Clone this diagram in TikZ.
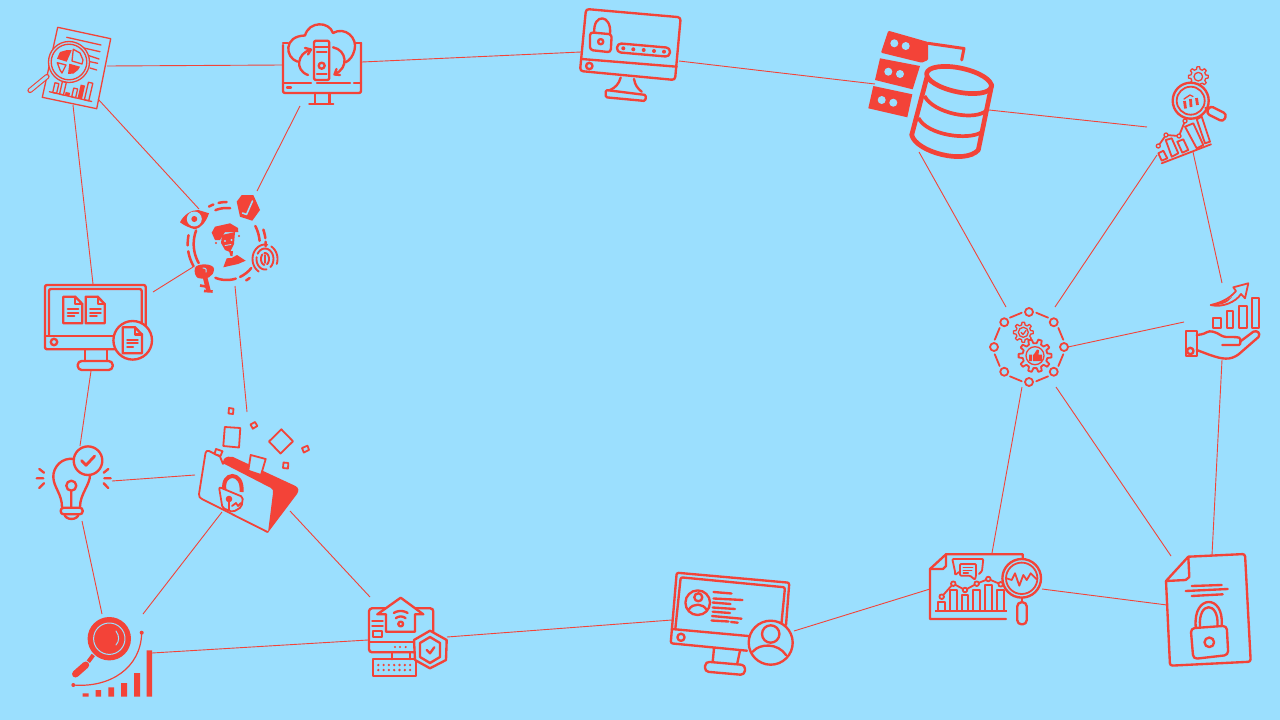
\documentclass[tikz,border=0pt]{standalone}
\definecolor{bgc}{HTML}{9BDFFE}
\definecolor{rd}{HTML}{F34338}
\newcommand{\earc}[6]{plot[domain=#5:#6,samples=16]({#1+#3*cos(\x)},{#2-#4*sin(\x)})}
\newcommand{\gearshape}[6][]{\draw[#1] ({#2+#5*cos(-.3*360/#6)},{#3+#5*sin(-.3*360/#6)})
 \foreach \gi in {0,...,\numexpr#6-1\relax}{
  -- ({#2+#5*cos((\gi-.3)*360/#6)},{#3+#5*sin((\gi-.3)*360/#6)})
  -- ({#2+#4*cos((\gi-.17)*360/#6)},{#3+#4*sin((\gi-.17)*360/#6)})
  -- ({#2+#4*cos((\gi+.17)*360/#6)},{#3+#4*sin((\gi+.17)*360/#6)})
  -- ({#2+#5*cos((\gi+.3)*360/#6)},{#3+#5*sin((\gi+.3)*360/#6)})
 } -- cycle;}
\tikzset{
 conn/.style={draw=rd,line width=.9pt},
 ic/.style={draw=rd,line width=2.35pt,line join=round,line cap=round},
 icm/.style={draw=rd,line width=1.8pt,line join=round,line cap=round},
 ics/.style={draw=rd,line width=1.3pt,line join=round,line cap=round},
 ick/.style={draw=rd,line width=4.7pt,line join=round,line cap=round},
 idr/.style={draw=rd,line width=2.5pt,line cap=round},
 cov/.style={fill=bgc},
 blu/.style={draw=bgc,line cap=round,line join=round},
}
\begin{document}
\begin{tikzpicture}[x=1pt,y=-1pt]
\useasboundingbox (0,0) rectangle (1280,720);
\fill[bgc] (0,0) rectangle (1280,720);
% connector ends
\coordinate (docE) at (107,66); \coordinate (cloudW) at (283,65);
\coordinate (cloudE) at (362,62); \coordinate (lockW) at (581,52);
\coordinate (lockE) at (679,61); \coordinate (dbW) at (875,84);
\coordinate (dbE) at (989,110); \coordinate (chartW) at (1147,127);
\coordinate (dbS) at (919,152); \coordinate (gearNW) at (1006,307);
\coordinate (gearNE) at (1055,307); \coordinate (chartSW) at (1157,155);
\coordinate (chartS) at (1193,152); \coordinate (handN) at (1222,283);
\coordinate (gearE) at (1068,347); \coordinate (handW) at (1184,322);
\coordinate (handS) at (1222,360); \coordinate (fileN) at (1212,555);
\coordinate (gearSE) at (1056,387); \coordinate (fileNW) at (1171,556);
\coordinate (gearS) at (1022,387); \coordinate (repN) at (992,553);
\coordinate (repE) at (1042,589); \coordinate (fileW) at (1167,605);
\coordinate (userE) at (794,631); \coordinate (repW) at (930,589);
\coordinate (homeE) at (447,637); \coordinate (userW) at (672,620);
\coordinate (searchE) at (152,653); \coordinate (homeW) at (368,640);
\coordinate (foldS) at (222,512); \coordinate (searchNE) at (143,614);
\coordinate (foldSE) at (290,511); \coordinate (homeN) at (370,597);
\coordinate (bulbS) at (82,521); \coordinate (searchN) at (102,614);
\coordinate (bulbE) at (112,481); \coordinate (foldW) at (195,475);
\coordinate (pcS) at (91,371); \coordinate (bulbN) at (80,446);
\coordinate (docS) at (73,105); \coordinate (pcN) at (93,284);
\coordinate (docSE) at (98,99); \coordinate (idNW) at (199,209);
\coordinate (cloudS) at (300,106); \coordinate (idNE) at (257,191);
\coordinate (idSW) at (193,267); \coordinate (pcE) at (153,292);
\coordinate (idS) at (235,286); \coordinate (foldN) at (247,412);
\foreach \a/\b in {docE/cloudW,cloudE/lockW,lockE/dbW,dbE/chartW,dbS/gearNW,gearNE/chartSW,chartS/handN,gearE/handW,handS/fileN,gearSE/fileNW,gearS/repN,repE/fileW,userE/repW,homeE/userW,searchE/homeW,foldS/searchNE,foldSE/homeN,bulbS/searchN,bulbE/foldW,pcS/bulbN,docS/pcN,docSE/idNW,cloudS/idNE,idSW/pcE,idS/foldN}
 \draw[conn] (\a) -- (\b);
% ---------- report with magnifier (top left)
\draw[ics] (57.7,27.3) -- (110.7,38.7) -- (96.7,108.7) -- (42.3,97.3) -- cycle;
\draw[ics] (66.7,37.3) -- (101,45) (63.3,43.3) -- (100,51.7) (87,55) -- (99,59) (90,61.7) -- (97.7,63.3) (90,68) -- (96.7,70);
\fill[bgc] (69,62) circle (20.5);
\draw[ics] (69,62) circle (20.5) (69,62) circle (17.8);
\fill[rd] (66.7,61.7) -- (57,58.7) -- (60,52) -- (67,50) -- (71.7,50.2) -- cycle;
\fill[rd] (69.3,63.7) -- (68,74) -- (73.5,73.5) -- (78,70) -- (80,66.7) -- cycle;
\draw[ics] (72,61) -- (73.3,49.3) -- (80,53) -- (83,60) -- (82,64) -- cycle;
\draw[ics] (66,65) -- (57.3,62.7) -- (60,70) -- (62,73) -- cycle;
\draw[draw=rd,line width=5.2pt,line cap=round] (47,76.5) -- (30,90.5);
\draw[draw=bgc,line width=3pt,line cap=round] (47,76.5) -- (30,90.5);
\begin{scope}[shift={(49.3,91.7)},rotate=-13]
 \draw[ics] (0,0) -- (43.5,0);
 \draw[ics] (3.5,0) rectangle (7.5,-10) (10.5,0) rectangle (14.5,-13) (23,0) rectangle (27,-9) (36,0) rectangle (40.5,-18);
 \fill[rd] (16,0) rectangle (20.5,-3.5) (29,0) rectangle (33.5,-14);
\end{scope}
% ---------- cloud monitor
\draw[ic] (283,45) -- (283,91) [rounded corners=2pt] -- (283,93) -- (361,93) -- (361,43);
\draw[ic] (283,43) -- (288,43) (361,43) -- (356,43);
\draw[ic] (283,82.7) -- (311,82.7) (317,82.7) -- (350,82.7) (354,82.7) -- (361,82.7);
\draw[ic] (287,87.5) -- (291,87.5);
\draw[ic] (315,93) -- (315,103.7) (329.6,93) -- (329.6,103.7) (309.3,103.7) -- (333.3,103.7);
\draw[ic] (297.7,61.7) .. controls (285,58) and (283,36) .. (305,35.5) .. controls (309,21) and (329,21) .. (333,33) .. controls (345,26) and (358,38) .. (354.5,50) .. controls (353,56) and (350,60) .. (345.7,62.3);
\draw[ic,rounded corners=2pt] (314,40.7) rectangle (329.3,80);
\draw[ic] (314,46.7) -- (329.3,46.7) (317,51.7) -- (326.5,51.7) (317,74) -- (326.5,74);
\draw[ic] (321.7,65.7) circle (3);
\draw[ic] (310,50) .. controls (298,53) and (294,70) .. (308,75);
\draw[ic] (305,48) -- (311,49.5) -- (308,54.5);
\draw[ic] (333,47.3) .. controls (347,50) and (349,68) .. (335,74);
\draw[ic] (340,75) -- (334.5,74.5) -- (336.5,69);
% ---------- lock monitor
\draw[ic,rounded corners=3pt] (586,9) -- (680.7,17.3) -- (675,80) -- (580,71) -- cycle;
\draw[ic] (581.7,59) -- (676.7,66.7);
\draw[ic] (589.3,66) circle (3.2);
\draw[ic] (620.7,77.5) .. controls (619,84) and (615,88) .. (610,90);
\draw[ic] (634,79) .. controls (635,85) and (638,89) .. (641.7,91.7);
\draw[ic,rounded corners=1.5pt] (605.7,90) -- (646,95) -- (645.3,101) -- (605.7,97.3) -- cycle;
\draw[ic,rounded corners=3pt] (590,32.3) -- (611.7,34.3) -- (610.7,52.3) -- (590,50) -- cycle;
\draw[ic] (594.3,32.3) .. controls (593,13) and (612,14) .. (610,34);
\draw[ic] (600.7,41.7) circle (2.6);
\draw[ic,rounded corners=4pt,rotate around={-5:(643.3,50)}] (617,45.5) rectangle (670,54.5);
\fill[rd] (623.3,48.3) circle (2) (633.3,49.3) circle (2) (643.7,50) circle (2) (654,51) circle (2) (664,51.7) circle (2);
% ---------- identity ring
\fill[rd] (180,222.3) .. controls (184,214) and (192,210) .. (198.3,210) -- (209,213.3) .. controls (206,222) and (201,228) .. (195,229.3) .. controls (190,228) and (185,226) .. cycle;
\fill[bgc] (194.3,219) circle (7.5);
\fill[rd] (194.3,219) circle (3);
\fill[rd] (241.7,195) -- (253.3,195) -- (260,210) -- (252.3,220.7) -- (240,216.7) -- (236.7,201.7) -- cycle;
\draw[blu,line width=1.6pt] (252.5,201) -- (246.5,214.5) -- (242.5,213);
\draw[idr] \earc{226.7}{244}{33}{36}{84}{110} \earc{226.7}{244}{33}{36}{158}{212} \earc{226.7}{244}{33}{36}{250}{286} \earc{226.7}{244}{33}{36}{294}{318} \earc{226.7}{244}{33}{36}{5}{30};
\draw[idr] \earc{226.7}{244}{39}{42}{110}{117} \earc{226.7}{244}{39}{42}{90}{102} \earc{226.7}{244}{39}{42}{168}{182} \earc{226.7}{244}{39}{42}{190}{212} \earc{226.7}{244}{39}{42}{8}{20} \earc{226.7}{244}{39}{42}{-3}{3} \earc{226.7}{244}{39}{42}{300}{306};
\fill[rd] (211.7,232.7) -- (215,226.7) -- (230,223.3) -- (238,228) -- (238.3,232) -- (225,232) -- (220,240) -- (215,240) -- cycle;
\fill[rd] (222,235) -- (235,232) -- (234,244) -- (230,252) -- (225,250) -- (221,243) -- cycle;
\fill[bgc] (225,241) circle (1.1) (231.5,240) circle (1.1);
\draw[blu,line width=.9pt] (225,245.5) -- (231,244.5);
\fill[rd] (229,251) -- (233,251) -- (232.5,256) -- (230.5,256) -- cycle;
\fill[rd] (223.3,267.3) -- (226.7,258.3) -- (231.7,258) -- (237,255) -- (245.7,260.7) -- (238,264) -- cycle;
\fill[rd] (216,243) circle (1.1) (239,236) circle (1.1);
\draw[idr,line width=1.9pt] \earc{265}{259}{12.5}{14.5}{-20}{60} \earc{265}{259}{12.5}{14.5}{80}{240} \earc{265}{259}{8.5}{10.5}{-50}{150} \earc{265}{259}{8.5}{10.5}{170}{280} \earc{265}{259}{4}{6}{-60}{100} \earc{265}{259}{4}{6}{130}{260};
\draw[idr,line width=1.9pt] (265,255) -- (265,263);
\fill[rd] (195,268) .. controls (196,263) and (214,263) .. (214,269) .. controls (214,277) and (206,280) .. (198,278) .. controls (195,276) and (194,272) .. cycle;
\draw[blu,line width=1pt] (203,268) .. controls (206,268) and (207,270) .. (206,272);
\draw[draw=rd,line width=4.5pt] (204.5,275) -- (208.5,291);
\draw[draw=rd,line width=2.6pt] (200,285.5) -- (206,286.5) (204,291) -- (212.7,291.5);
% ---------- monitor with documents
\draw[ic,rounded corners=2pt] (45,285) rectangle (145.7,349.3);
\draw[ic,rounded corners=2pt] (49,336) -- (49,289) -- (141.7,289) -- (141.7,336);
\draw[ic] (45,336) -- (145.7,336);
\draw[ic] (54,342) circle (3.2);
\draw[ic] (85,349.3) -- (85,361) (106.7,349.3) -- (106.7,361);
\draw[ic,rounded corners=4pt] (77.7,361) rectangle (112.7,370);
\foreach \dx in {63.3,85.7}{
 \draw[ic] (\dx,296.7) -- (\dx+12,296.7) -- (\dx+19,304) -- (\dx+19,323.3) -- (\dx,323.3) -- cycle;
 \draw[ic] (\dx+12,296.7) -- (\dx+12,304) -- (\dx+19,304);
 \draw[ic] (\dx+4.5,309) -- (\dx+15,309) (\dx+4.5,312.7) -- (\dx+15,312.7) (\dx+4.5,316) -- (\dx+11,316);
}
\fill[bgc] (132.7,340.3) circle (19.3);
\draw[ic] (132.7,340.3) circle (19.3);
\draw[ic] (122.7,327.3) -- (135,327.3) -- (142,334.5) -- (142,353.3) -- (122.7,353.3) -- cycle;
\draw[ic] (135,327.3) -- (135,334.5) -- (142,334.5);
\draw[ic] (127.3,340) -- (137.7,340) (127.3,343.3) -- (137.7,343.3) (127.3,346.7) -- (133,346.7);
% ---------- bulb
\draw[ic] (74,459) .. controls (62,457) and (53,467) .. (53.3,477) .. controls (53.5,487) and (62,494) .. (62,507);
\draw[ic] (90,475) .. controls (90,485) and (80,494) .. (80,507);
\draw[ic,rounded corners=3pt] (60.7,507.7) rectangle (82.7,514.3);
\draw[ic] (64.5,514.3) .. controls (65.5,520.5) and (77.5,520.5) .. (78.5,514.3);
\draw[ic] (71.3,485.7) circle (5) (71.3,490.7) -- (71.3,507.7);
\draw[ic] (88,460.7) circle (14.3);
\draw[draw=rd,line width=2.8pt,line cap=round,line join=round] (81.7,460.7) -- (86,465.3) -- (94.7,456);
\draw[ic] (39.3,469) -- (44,472.7) (36.7,478.3) -- (43.3,478.3) (39.3,488) -- (44,483.3) (108.3,469) -- (103.7,472.7) (110.7,478.3) -- (104.3,478.3) (108.3,488) -- (103.7,483.3);
% ---------- folder
\draw[icm] (223,464) -- (220,456.5) -- (209,451) .. controls (207,450.5) and (206,451) .. (205.5,453) -- (199,494) .. controls (198.8,497) and (200,498) .. (202,499) -- (267.5,532);
\fill[rd] (222.5,463) -- (224,459) .. controls (226,456.5) and (230,456) .. (233,457) -- (295.5,486) .. controls (299,488) and (299,491) .. (297,494) -- (268,532.5) -- (273,493) .. controls (273.5,490) and (272.5,489) .. (271,488) -- cycle;
\draw[icm,cov] (250.7,455) -- (265.7,459) -- (261,475) -- (248.3,470.7) -- cycle;
\draw[icm,cov] (216,449) -- (222.5,451.2) -- (220.5,456) -- (214.5,454) -- cycle;
\draw[icm] (229,408) -- (233.5,408.7) -- (233,414) -- (228.5,413.5) -- cycle;
\draw[icm] (224.8,427) -- (240.3,428) -- (239,447.5) -- (223.3,446) -- cycle;
\draw[icm] (250.5,424.5) -- (255,422) -- (257.3,426) -- (252.8,428.7) -- cycle;
\draw[icm] (281.3,429.3) -- (293,441.3) -- (280.5,453.5) -- (269,441.5) -- cycle;
\draw[icm] (302,448) -- (307.5,445.7) -- (309,450) -- (303.8,452.5) -- cycle;
\draw[icm] (283.5,462.5) -- (288.3,463) -- (288,468.5) -- (283,468) -- cycle;
\draw[draw=rd,line width=4pt] (224.5,490) .. controls (221,472) and (243.5,470) .. (241.5,492);
\draw[icm,cov,rounded corners=2pt] (219,487) -- (243,497) -- (241.5,507) -- (233,512) -- (222.5,508) -- cycle;
\fill[rd] (229,499) circle (3.3);
\draw[icm] (229,499) -- (229,510) (232,506) -- (236,503) -- (238,506) -- (241,503);
% ---------- search with growth bars
\fill[rd] (109.3,638.7) circle (21.7);
\draw[blu,line width=1pt] (109.3,638.7) circle (15.7);
\draw[blu,line width=1pt] (116,631) .. controls (119.5,636) and (119.5,641) .. (116,645);
\draw[draw=rd,line width=4pt] (93.3,655) -- (88.3,661.7);
\draw[draw=rd,line width=7pt,line cap=round] (85.7,665) -- (75.5,674);
\draw[draw=rd,line width=1.2pt] (141.7,632.7) .. controls (141,668) and (110,688) .. (73.3,685);
\fill[rd] (141.7,632.7) circle (2) (73.3,685) circle (2);
\fill[rd] (82.7,693.3) rectangle (88.7,696.7) (95.7,690) rectangle (101,696.7) (108.3,687.3) rectangle (114,696.7) (121,683) rectangle (127,696.7) (134,673) rectangle (140,696.7) (146.7,650.3) rectangle (152,696.7);
% ---------- home monitor
\draw[ic,rounded corners=3pt] (369,608.3) rectangle (433.3,652.3);
\draw[ic] (369,641.7) -- (415,641.7);
\fill[rd] (395,647) circle (1.2) (400,647) circle (1.2) (405.7,647) circle (1.2);
\draw[ic] (391.7,652.3) -- (391.7,659.3) (410,652.3) -- (410,659.3);
\draw[ic] (373.3,659.3) rectangle (415.7,676);
\foreach \kx in {378.3,383.6,388.9,394.2,399.5,404.8,410.1}{\fill[rd] (\kx,665) circle (1.3) (\kx,670) circle (1.3);}
\draw[ic,fill=bgc] (386,614.3) -- (386,631.7) -- (415,631.7) -- (415,614.3) -- (423.3,614.3) -- (400.7,597.7) -- (377.3,614.3) -- cycle;
\draw[ic] (400.7,624) circle (2.4);
\draw[ic] \earc{400.7}{624}{7.5}{7.5}{50}{130} \earc{400.7}{624}{13}{13}{58}{122};
\draw[ic] (372.3,621) -- (382.7,621) (372.3,626) -- (382.7,626);
\draw[ic] (372.7,631) rectangle (382.3,637.3);
\draw[ic,fill=bgc] (430,630.7) -- (446.7,640) -- (446,660) -- (430,668.3) -- (415,660) -- (414,640) -- cycle;
\draw[ic] (430,637) -- (440,643) -- (440,657) -- (430,663) -- (420,657) -- (420,643) -- cycle;
\draw[ic] (426.7,650) -- (430,653.3) -- (434.3,647.3);
% ---------- user monitor
\draw[ic,rounded corners=2pt] (747,650.7) -- (670.7,643.3) -- (676.7,572.7) -- (789.3,582.7) -- (786,625);
\draw[ic,rounded corners=2pt] (675.3,629) -- (680.7,577.3) -- (785,587.3) -- (781,628);
\draw[ic] (671.7,629) -- (748.3,636);
\draw[ic] (681,637.3) circle (3.6);
\draw[ic] (714,648.3) -- (712.7,661.7) (740,650.7) -- (737.3,663.3);
\draw[ic,rounded corners=4pt,rotate around={-5:(725,668.3)}] (705,663.3) rectangle (745,673.3);
\draw[ic] (697.7,602.7) circle (12.3) (698.3,597.3) circle (4);
\draw[ic] (689,609.3) .. controls (693,603) and (703,603) .. (706.7,610);
\draw[ic] (713.5,592) -- (731.5,593.5) (713.5,598.5) -- (742.5,600) (712.7,602.5) -- (730.5,604) (712.7,607.5) -- (735,609) (712.7,611.7) -- (730,613) (712,616) -- (741.5,618.7) (711.5,620.5) -- (728.5,621.5) (731,622) -- (737.7,622.7);
\fill[bgc] (770.7,642.7) circle (22);
\draw[ic] (770.7,642.7) circle (22) (770.7,634) circle (8.7);
\draw[ic] (752.7,651.7) .. controls (760,643) and (778,643) .. (786,655);
% ---------- analytics report
\draw[ic] (1022.7,558) -- (1022.7,554.3) -- (946,554.3) -- (930,569) -- (930,619) -- (1006,619);
\draw[ic] (930,569) -- (943,569) -- (946,566) -- (946,554.3);
\draw[draw=rd,line width=2.7pt] (935,611) -- (1006.7,611);
\draw[icm] (938.3,611) rectangle (945,602.3) (950,611) rectangle (956.7,590) (961.7,611) rectangle (968.3,595) (973.3,611) rectangle (980,590) (985,611) rectangle (992.3,585) (997.3,611) rectangle (1004,590);
\draw[icm] (941.7,596.7) -- (953.3,583.7) -- (965,590) -- (976.7,583.7) -- (988.3,579) -- (1000.7,584.3);
\foreach \px/\py in {941.7/596.7,953.3/583.7,965/590,976.7/583.7,988.3/579,1000.7/584.3}{\draw[icm,cov] (\px,\py) circle (2.3);}
\draw[icm,rounded corners=1pt] (955,571.5) -- (952.3,559) -- (983.3,559) -- (982,571) -- (979,574);
\draw[icm,rounded corners=1pt] (955,571.5) -- (955,575) -- (959,572);
\draw[icm,fill=bgc,rounded corners=1pt] (960,564) -- (976,564) -- (976,575.7) -- (975,579.7) -- (970,575.7) -- (960,575.7) -- cycle;
\draw[ics] (963.3,567.7) -- (972.7,567.7) (963.3,570.3) -- (971.7,570.3) (963.3,573) -- (968.3,573);
\fill[bgc] (1021.7,578.3) circle (19.3);
\draw[ic] (1021.7,578.3) circle (19.3);
\draw[icm] (1021.7,578.3) circle (15.7);
\draw[icm] (1006.5,578.3) -- (1011.7,580) -- (1015,573.3) -- (1019.3,585.7) -- (1023.3,575) -- (1026.7,580) -- (1030.7,573.3) -- (1036.7,579.3);
\draw[ic] (1021.7,598) -- (1021.7,602.3);
\draw[ic,rounded corners=4pt] (1017.3,602.3) rectangle (1026.7,624.3);
% ---------- locked file
\draw[ic,rounded corners=2.5pt] (1166,581) -- (1170,665.7) -- (1250.7,661.7) -- (1245,554) -- (1188.3,556.7);
\draw[ic] (1188.3,556.7) -- (1166,581) -- (1185.7,580) -- (1189.3,577) -- (1188.3,556.7);
\draw[ic] (1191.7,586) -- (1221.7,585) (1185.7,591) -- (1227.7,589) (1191.7,596) -- (1222.7,594.3);
\draw[ic,rounded corners=4pt] (1190.7,628.3) -- (1226.7,625.7) -- (1228.3,655) -- (1193.3,659) -- cycle;
\draw[ic] (1209.3,642.3) circle (4.8);
\draw[ic] (1195.7,626.7) .. controls (1193,594) and (1224,594) .. (1221.7,625);
\draw[ic] (1200,626.3) .. controls (1198,601) and (1219,601) .. (1217.5,625.5);
% ---------- database
\fill[rd,rounded corners=1pt] (888.3,30.7) -- (928,42) -- (928,60) -- (921.7,62.7) -- (881,52.7) -- cycle;
\draw[draw=rd,line width=3pt,line join=round,line cap=round] (928,43.3) -- (964,48.5) -- (961.7,60);
\fill[rd] (880,58.3) -- (920,66) -- (912.7,89.3) -- (875,80) -- cycle;
\fill[rd] (873.3,86) -- (912.3,94.3) -- (907.3,117.3) -- (868.3,108.3) -- cycle;
\fill[bgc] (894.3,43.3) circle (4) (905.7,46) circle (4) (888.3,71.7) circle (4) (900,74) circle (4) (881.7,100) circle (4) (893.3,102.7) circle (4);
\draw[ick] (959,80) ellipse [x radius=33,y radius=12,rotate=-12];
\draw[ick] (926.7,78) -- (911.7,135) .. controls (916,152) and (965,165) .. (978.3,150) -- (991.7,85);
\draw[draw=rd,line width=3.7pt] (924.5,96) .. controls (933,113) and (975,122) .. (987,110);
\draw[draw=rd,line width=3.7pt] (918.5,118) .. controls (927,135) and (968,141) .. (982,132);
% ---------- chart with magnifier
\gearshape[ics]{1198.3}{76.7}{10}{7.6}{8}
\draw[ics] (1198.3,76.7) circle (4.3);
\fill[bgc] (1190.7,100.7) circle (18);
\draw[ic] (1190.7,100.7) circle (18);
\draw[icm] (1190.7,100.7) circle (14);
\draw[draw=rd,line width=2.8pt] (1184.5,101) -- (1185.5,108.5) (1190.5,99) -- (1191,107) (1196.5,98) -- (1197.5,105);
\draw[ics] (1184,99) -- (1190,95) -- (1193,96.5);
\draw[ic,rounded corners=3.5pt,rotate around={-27:(1216.5,113.8)}] (1207,109.5) rectangle (1226,118);
\draw[ic] (1205.5,108) -- (1208.3,109.3);
\draw[icm] (1158.3,153.3) -- (1163.3,150.7) -- (1167.3,158.3) -- (1161.7,160.7) -- cycle;
\draw[icm] (1165.7,140) -- (1171.7,138.3) -- (1178.3,153.3) -- (1171.7,156.7) -- cycle;
\draw[icm] (1177.3,141.7) -- (1183.3,139.3) -- (1188.3,150) -- (1182.3,152.7) -- cycle;
\draw[icm] (1185,126.7) -- (1193.3,123.3) -- (1203.3,145) -- (1196.7,148.3) -- cycle;
\draw[icm] (1196.7,119.3) -- (1201.7,116.7) -- (1210,141.7) -- (1205,143.3) -- cycle;
\draw[icm] (1161.7,163.3) -- (1211,144.3);
\draw[icm] (1158.3,146) -- (1166,135) -- (1179,136) -- (1185,121);
\foreach \px/\py in {1158.3/146,1166/135,1179/136,1185/121}{\draw[ics,cov] (\px,\py) circle (2);}
% ---------- gear ring
\foreach \na in {0,45,...,315}{
 \draw[icm] ({1029+35*cos(\na)},{347+35*sin(\na)}) circle (4);
 \draw[icm] ({1029+35*cos(\na+12)},{347+35*sin(\na+12)}) -- ({1029+35*cos(\na+33)},{347+35*sin(\na+33)});
}
\gearshape[icm]{1035}{355.7}{16.5}{12.5}{10}
\draw[ics] (1035,355.7) circle (9);
\fill[rd] (1029,354.5) rectangle (1032,361) (1033,354.5) rectangle (1042,361);
\fill[rd] (1033.5,355) -- (1037,349.5) -- (1039,350) -- (1038.5,355) -- cycle;
\gearshape[ics]{1023.3}{332.3}{10}{7.5}{8}
\draw[ics] (1023.3,332.3) circle (5);
\draw[ics] (1021,332.3) -- (1023,334.5) -- (1026,330.5);
% ---------- hand with bars
\draw[ic] (1185.7,331) rectangle (1196.7,355.7);
\draw[ic] (1190.3,351) circle (3.2);
\draw[ic,rounded corners=3pt] (1196.7,335) -- (1204,334) .. controls (1210,330) and (1216,332) .. (1223.3,337) -- (1236,337) .. controls (1241,338) and (1241,345) .. (1236,345) -- (1222.3,345);
\draw[ic] (1240,341.7) -- (1253.3,331.7) .. controls (1257,330) and (1261,333) .. (1258.5,337) -- (1239,354) .. controls (1230,361) and (1222,359) .. (1210,355) -- (1196.7,350);
\draw[ic] (1213.3,318.3) rectangle (1220.7,328.3) (1226.7,310.7) rectangle (1233.3,328.3) (1239.3,306) rectangle (1246.7,328.3) (1252,298) rectangle (1259.3,328.3);
\draw[icm,cov] (1210.7,305) .. controls (1222,302.5) and (1230,298) .. (1236,291) -- (1233.3,287.3) -- (1248.3,283.3) -- (1245,298.3) -- (1241,294) .. controls (1236,302) and (1222,308) .. cycle;
\fill[rd] (1210.7,305) .. controls (1220,303) and (1226,301) .. (1232,297) .. controls (1228,303) and (1220,306) .. cycle;
\end{tikzpicture}
\end{document}
